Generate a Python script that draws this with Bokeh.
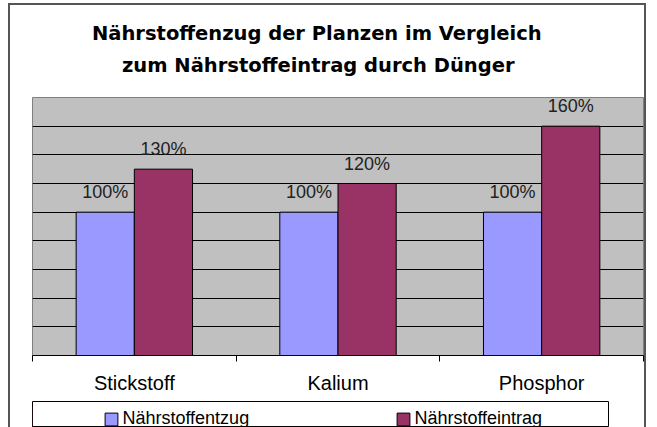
from bokeh.plotting import figure
from bokeh.layouts import column
from bokeh.models import Range1d, FixedTicker, Legend, LegendItem, Title, ColumnDataSource
from bokeh.transform import dodge
from bokeh.embed import file_html
from bokeh.resources import INLINE
from bokeh.core.properties import value

# ---- data ----
title_lines = ["Nährstoffenzug der Planzen im Vergleich", "zum Nährstoffeintrag durch Dünger"]
categories = ["Stickstoff", "Kalium", "Phosphor"]
series_names = ["Nährstoffentzug", "Nährstoffeintrag"]
entzug = [100, 100, 100]
eintrag = [130, 120, 160]
y_grid_ticks = [20, 40, 60, 80, 100, 120, 140, 160]
y_max = 180

# ---- layout constants ----
CANVAS_W = 634
FRAME_W, FRAME_H = 611, 258
B_LEFT, B_RIGHT, B_TOP, B_BOTTOM = 17, 6, 92, 46
LEG_H = 26
LEG_LEFT, LEG_RIGHT = 22, 36

BLUE = "#9999FF"
PLUM = "#993366"
GRAY = "#C0C0C0"

x_centers = [i + 0.5 for i in range(len(categories))]
boundaries = [float(i) for i in range(len(categories) + 1)]
bw = 1 / 3.5

src = ColumnDataSource(dict(
    x=x_centers,
    entzug=entzug,
    eintrag=eintrag,
    lab1=[f"{v}%" for v in entzug],
    lab2=[f"{v}%" for v in eintrag],
))

p = figure(frame_width=FRAME_W, frame_height=FRAME_H,
           x_range=Range1d(0, len(categories)), y_range=Range1d(0, y_max),
           output_backend="svg", toolbar_location=None, y_axis_location=None,
           min_border_left=B_LEFT, min_border_right=B_RIGHT,
           min_border_top=B_TOP, min_border_bottom=B_BOTTOM)

p.background_fill_color = GRAY
p.border_fill_color = "white"
p.outline_line_color = "#808080"
p.outline_line_width = 1

p.xgrid.visible = False
p.ygrid.ticker = FixedTicker(ticks=y_grid_ticks)
p.ygrid.grid_line_color = "black"
p.ygrid.grid_line_width = 1

ax = p.xaxis[0]
ax.ticker = FixedTicker(ticks=x_centers, minor_ticks=boundaries)
ax.major_label_overrides = {x: c for x, c in zip(x_centers, categories)}
ax.major_tick_out = 0
ax.major_tick_in = 0
ax.major_tick_line_color = None
ax.minor_tick_out = 6
ax.minor_tick_in = 0
ax.minor_tick_line_color = "black"
ax.axis_line_color = "black"
ax.major_label_standoff = 10
ax.major_label_text_font = "Liberation Sans"
ax.major_label_text_font_size = "20px"
ax.major_label_text_color = "black"

bar_style = [(-bw / 2, "entzug", "lab1", BLUE), (bw / 2, "eintrag", "lab2", PLUM)]
for xf, yf, tf, col in bar_style:
    p.vbar(x=dodge("x", xf), top=yf, width=bw, source=src,
           fill_color=col, line_color="black", line_width=1)
    p.text(x=dodge("x", xf), y=yf, text=tf, source=src, y_offset=-20,
           text_align="center", text_baseline="alphabetic",
           text_font=value("Liberation Sans"), text_font_size="18px", text_color="#222222")

# ---- title: spacer next to the frame, then the two lines ----
title_font = dict(text_font="DejaVu Sans", text_font_style="bold",
                  text_font_size="19.5px", text_color="black")
p.add_layout(Title(text=" ", text_font_size="1px", standoff=11), "above")
p.add_layout(Title(text=title_lines[1], align="left", offset=89.5,
                   vertical_align="bottom", standoff=14, **title_font), "above")
p.add_layout(Title(text=title_lines[0], align="left", offset=59.5,
                   vertical_align="bottom", standoff=0, **title_font), "above")

# ---- legend strip: its frame outline is the legend box ----
# (the strip looks at an x window far from the bars, so only the legend keys show)
pl = figure(frame_width=CANVAS_W - LEG_LEFT - LEG_RIGHT, frame_height=LEG_H,
            x_range=Range1d(100, 101), y_range=Range1d(0, y_max),
            output_backend="svg", toolbar_location=None,
            x_axis_location=None, y_axis_location=None,
            min_border_left=LEG_LEFT, min_border_right=LEG_RIGHT,
            min_border_top=0, min_border_bottom=0)
pl.grid.visible = False
pl.background_fill_color = "white"
pl.border_fill_color = "white"
pl.outline_line_color = "black"
pl.outline_line_width = 1

keys = []
for xf, yf, tf, col in bar_style:
    keys.append(pl.vbar(x=dodge("x", xf), top=yf, width=bw, source=src,
                        fill_color=col, line_color="black", line_width=1))

legend = Legend(items=[LegendItem(label=series_names[0], renderers=[keys[0]]),
                       LegendItem(label=series_names[1], renderers=[keys[1]])],
                orientation="horizontal", location=(71.4, -2), padding=0, margin=0,
                spacing=123, label_standoff=3, glyph_width=16, glyph_height=16,
                label_height=16, label_width=150,
                label_text_font="Liberation Sans", label_text_font_size="18px",
                label_text_color="black",
                border_line_color=None, background_fill_alpha=0)
pl.add_layout(legend, "center")

layout = column(p, pl, spacing=0)
layout.styles = {
    "box-sizing": "content-box",
    "margin-left": "8px",
    "margin-top": "3px",
    "border-top": "2px solid #555555",
    "border-left": "2px solid #555555",
    "border-right": "2px solid #555555",
}

open("out.html", "w").write(file_html(layout, INLINE))
